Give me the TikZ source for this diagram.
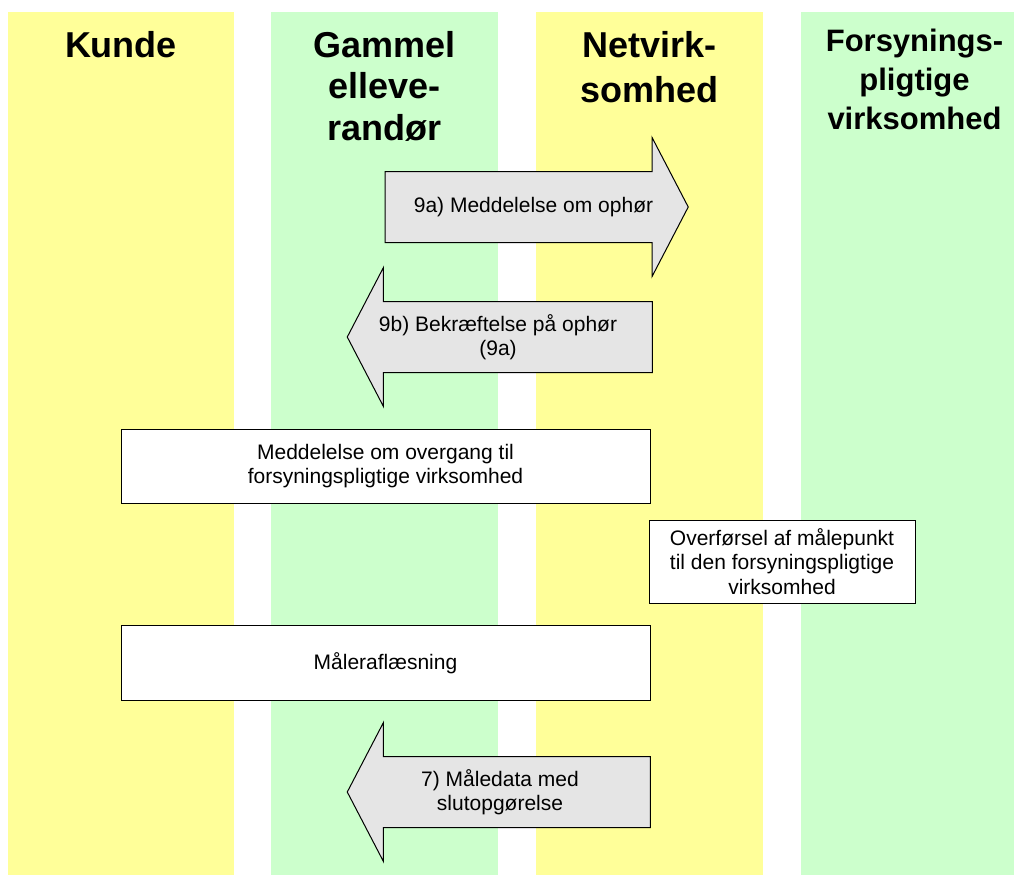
\documentclass[tikz,border=0pt]{standalone}
\usepackage{fontspec}
\setmainfont{Liberation Sans}
\usepackage{xcolor}
\usepackage{tikz}
\usetikzlibrary{positioning,shapes.arrows}

\definecolor{laneyellow}{HTML}{FFFF99}
\definecolor{lanegreen}{HTML}{CCFFCC}
\definecolor{arrowgray}{HTML}{E5E5E5}

\newcommand{\shafttext}[2][0pt]{\parbox[c][70pt][c]{240pt}{\centering\advance\leftskip by #1\advance\rightskip by -#1 #2}}

\tikzset{
    lane/.style={rectangle, minimum height=863pt, anchor=north, inner sep=0pt},
    header/.style={align=center, anchor=north, inner sep=0pt, font=\fontsize{36}{41.5}\selectfont\bfseries},
    msgbox/.style={draw, rectangle, fill=white, line width=1pt, align=center, font=\fontsize{21}{24.5}\selectfont},
    msgarrow/.style={single arrow, draw, fill=arrowgray, line width=1pt, single arrow head extend=34pt,
        single arrow tip angle=125, minimum width=138pt, inner sep=0pt,
        font=\fontsize{21}{24.5}\selectfont}
}

\begin{document}
\begin{tikzpicture}[x=1pt,y=-1pt]
            \useasboundingbox (0,0) rectangle (1014,875);

            \node (kundeLane) [lane, fill=laneyellow, minimum width=226pt] at (121,12) {};
            \node (gammelLane) [lane, fill=lanegreen, minimum width=227pt] at (384.5,12) {};
            \node (netLane) [lane, fill=laneyellow, minimum width=227pt] at (649.5,12) {};
            \node (forsLane) [lane, fill=lanegreen, minimum width=213pt] at (907.5,12) {};

            \node (kunde) [header] at (121,31) {Kunde};
            \node (gammel) [header] at (384.5,31) {Gammel\\elleve-\\randør};
            \node (net) [header, font=\fontsize{36}{45}\selectfont\bfseries] at (649.5,31) {Netvirk-\\somhed};
            \node (fors) [header, font=\fontsize{31}{39}\selectfont\bfseries] at (914.5,29) {Forsynings-\\pligtige\\virksomhed};

            \node (ophoer) [msgarrow, minimum height=303pt] at (527.5,207) {\shafttext[6pt]{9a) Meddelelse om ophør}};
            \node (bekraeft) [msgarrow, minimum height=305pt, shape border rotate=180] at (509,337) {\shafttext[-11pt]{9b) Bekræftelse på ophør\\(9a)}};

            \node (overgang) [msgbox, minimum width=529pt, minimum height=74pt] at (385.5,466) {Meddelelse om overgang til\\forsyningspligtige virksomhed};
            \node (overfoersel) [msgbox, minimum width=266pt, minimum height=83pt] at (782,561.5) {Overførsel af målepunkt\\til den forsyningspligtige\\virksomhed};
            \node (maaler) [msgbox, minimum width=529pt, minimum height=75pt] at (385.5,663) {Måleraflæsning};

            \node (maaledata) [msgarrow, minimum height=303pt, shape border rotate=180] at (508,792) {\shafttext[-8pt]{7) Måledata med\\slutopgørelse}};
        \end{tikzpicture}
\end{document}
